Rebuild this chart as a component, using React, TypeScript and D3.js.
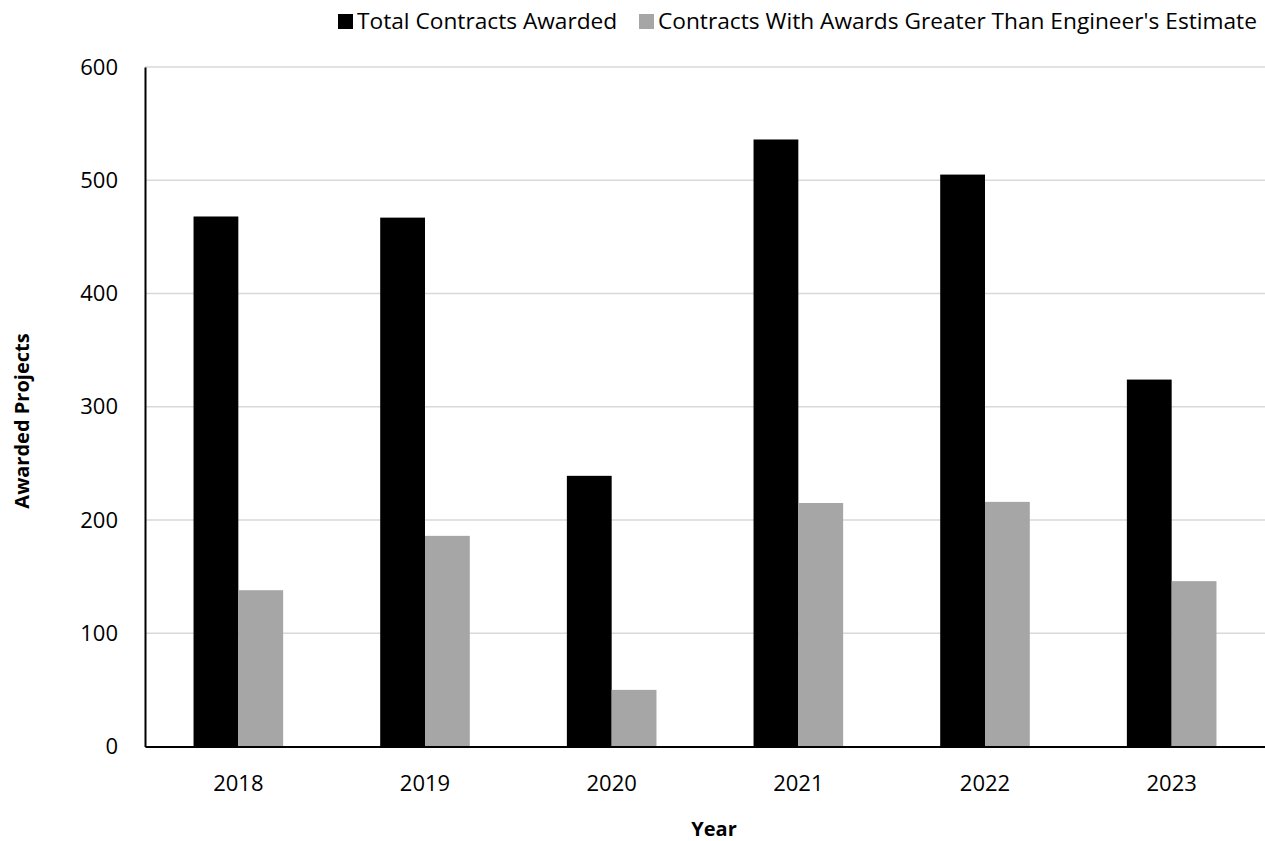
import React, { useRef, useEffect } from "react";
import * as d3 from "d3";

const years = ["2018", "2019", "2020", "2021", "2022", "2023"];
const totalAwarded = [468, 467, 239, 536, 505, 324];
const overEstimate = [138, 186, 50, 215, 216, 146];
const seriesNames = ["Total Contracts Awarded", "Contracts With Awards Greater Than Engineer's Estimate"];
const seriesColors = ["#000000", "#a6a6a6"];
const yTicks = [0, 100, 200, 300, 400, 500, 600];

export default function App() {
  const ref = useRef<SVGSVGElement | null>(null);
  const width = 1265, height = 841;
  const margin = { top: 67, right: 0, bottom: 95, left: 145 };
  const font = "'Segoe UI', 'Open Sans', 'Noto Sans', sans-serif";

  useEffect(() => {
    const svg = d3.select(ref.current);
    svg.selectAll("*").remove();

    const y = d3.scaleLinear().domain([0, 600]).range([height - margin.bottom + 0.5, margin.top]);
    const x0 = d3.scaleBand().domain(years).range([margin.left, width - margin.right]).paddingInner(0.52).paddingOuter(0.26);
    const x1 = d3.scaleBand().domain(["a", "b"]).range([0, x0.bandwidth()]);

    // gridlines
    svg.append("g")
      .selectAll("line")
      .data(yTicks.slice(1))
      .join("line")
      .attr("x1", margin.left)
      .attr("x2", width - margin.right)
      .attr("y1", d => y(d))
      .attr("y2", d => y(d))
      .attr("stroke", "#d9d9d9")
      .attr("stroke-width", 1.5);

    const rows = years.map((yr, i) => ({ yr, vals: [totalAwarded[i], overEstimate[i]] }));
    svg.append("g")
      .selectAll("g")
      .data(rows)
      .join("g")
      .attr("transform", d => `translate(${x0(d.yr)},0)`)
      .selectAll("rect")
      .data(d => d.vals.map((v, j) => ({ v, j })))
      .join("rect")
      .attr("x", d => x1(d.j === 0 ? "a" : "b")!)
      .attr("width", x1.bandwidth())
      .attr("y", d => y(d.v))
      .attr("height", d => y(0) - y(d.v))
      .attr("fill", d => seriesColors[d.j]);

    // y axis
    const yAxis = svg.append("g")
      .attr("transform", `translate(${margin.left},0)`)
      .call(d3.axisLeft(y).tickValues(yTicks).tickSize(0).tickPadding(27));
    yAxis.select(".domain").attr("stroke", "#000").attr("stroke-width", 2);
    yAxis.selectAll("text").attr("font-size", 22).attr("font-family", font).attr("fill", "#000");

    // x axis
    const xAxis = svg.append("g")
      .attr("transform", `translate(0,${y(0)})`)
      .call(d3.axisBottom(x0).tickSize(0).tickPadding(29));
    xAxis.select(".domain").attr("stroke", "#000").attr("stroke-width", 2);
    xAxis.selectAll("text").attr("font-size", 22).attr("font-family", font).attr("fill", "#000");

    // axis titles
    svg.append("text")
      .attr("x", 714)
      .attr("y", 836)
      .attr("text-anchor", "middle")
      .attr("font-family", font)
      .attr("font-weight", "bold")
      .attr("font-size", 20)
      .text("Year");

    svg.append("text")
      .attr("transform", `translate(29,421) rotate(-90)`)
      .attr("text-anchor", "middle")
      .attr("font-family", font)
      .attr("font-weight", "bold")
      .attr("font-size", 20)
      .text("Awarded Projects");

    // legend
    const legendX = [338, 639];
    const legend = svg.append("g")
      .selectAll("g")
      .data(seriesNames)
      .join("g")
      .attr("transform", (d, i) => `translate(${legendX[i]},14)`);
    legend.append("rect")
      .attr("width", 15)
      .attr("height", 15)
      .attr("fill", (d, i) => seriesColors[i]);
    legend.append("text")
      .attr("x", 19)
      .attr("y", 15)
      .attr("font-family", font)
      .attr("font-size", 22.7)
      .text(d => d);
  }, []);

  return (
    <div style={{ position: "absolute", left: 0, top: 0, background: "#fff" }}>
      <svg ref={ref} width={width} height={height} />
    </div>
  );
}
